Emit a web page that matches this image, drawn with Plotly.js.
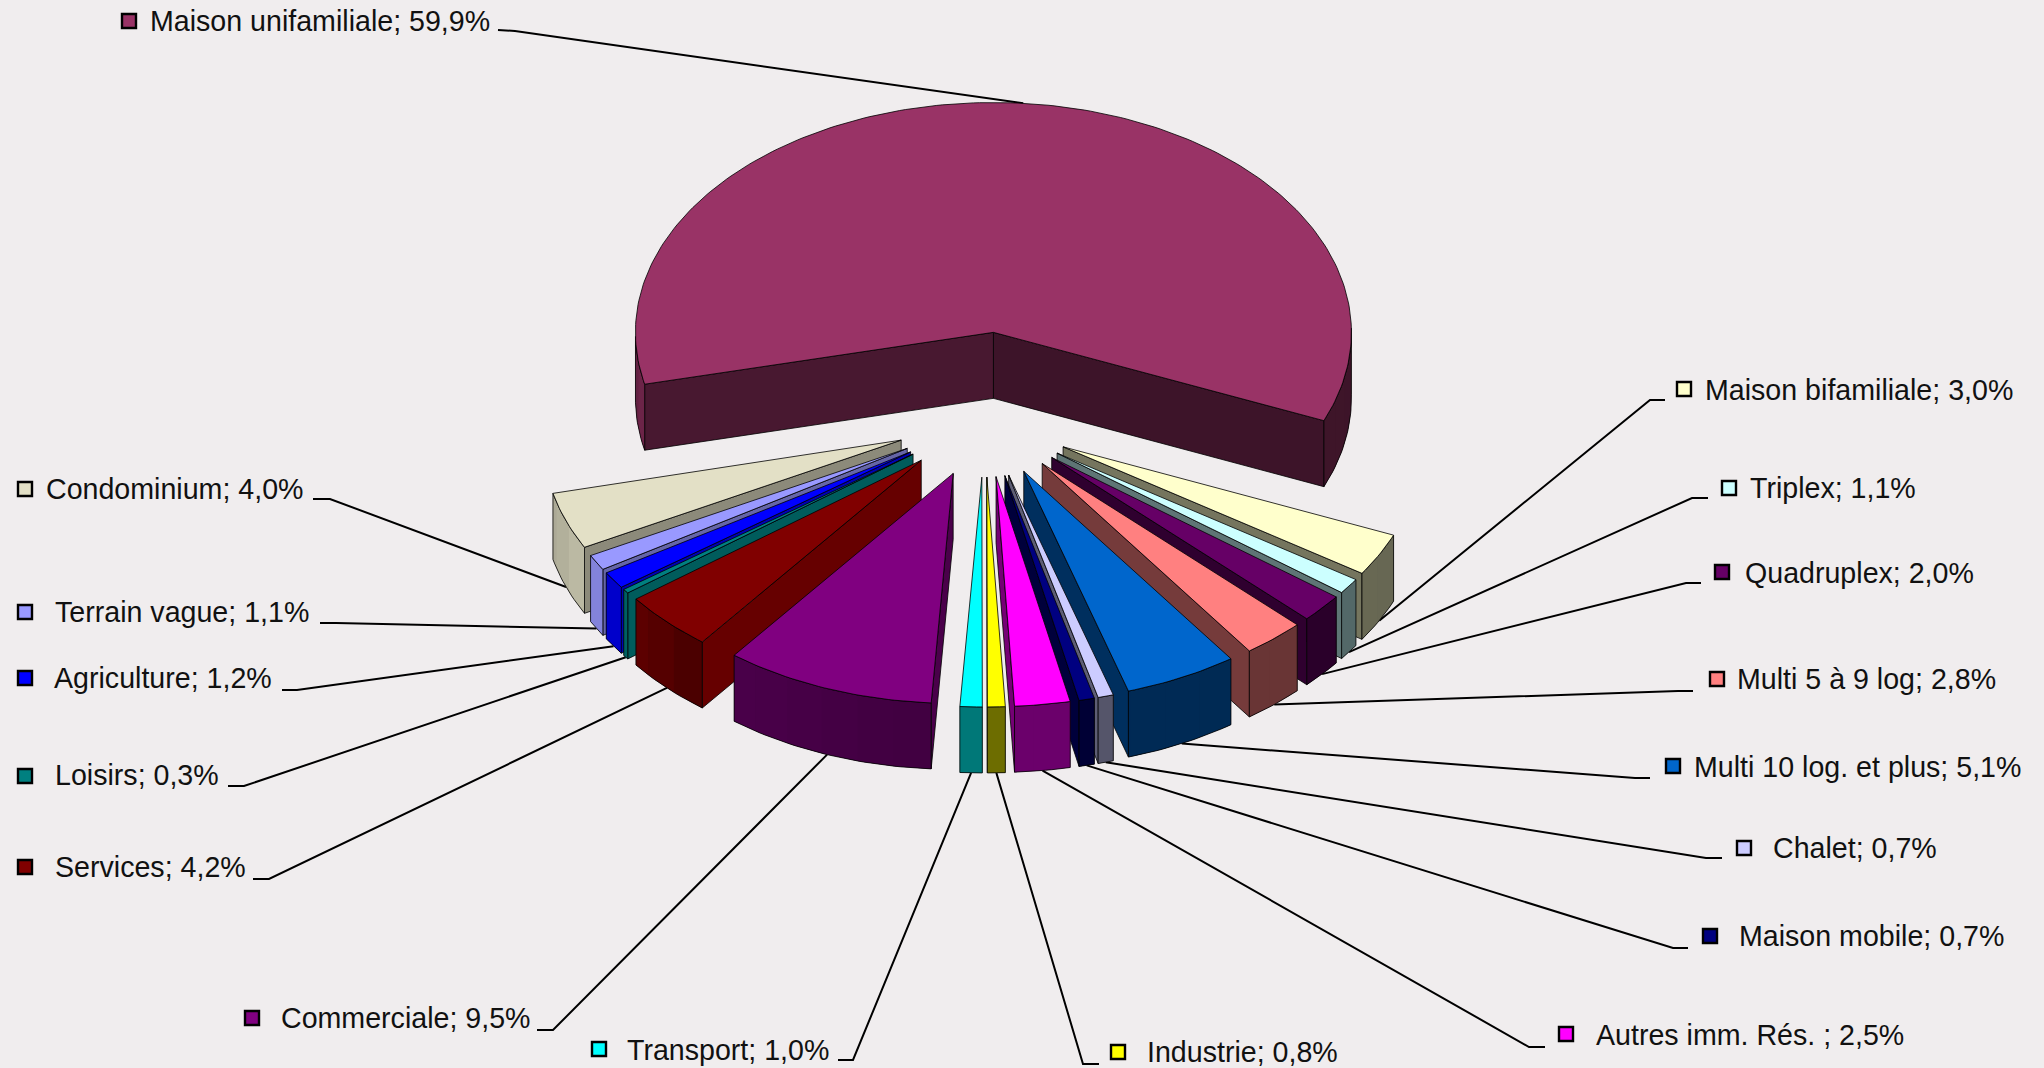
<!DOCTYPE html>
<html>
<head>
<meta charset="utf-8">
<script src="https://cdn.plot.ly/plotly-3.0.1.min.js"></script>
<style>html,body{margin:0;padding:0;background:#f0edee}#chart{width:2044px;height:1068px}</style>
</head>
<body>
<div id="chart"></div>
<script>
// Share of buildings by category, percent, in drawing order clockwise from the large slice
const categories = ["Maison unifamiliale","Maison bifamiliale","Triplex","Quadruplex","Multi 5 à 9 log","Multi 10 log. et plus","Chalet","Maison mobile","Autres imm. Rés. ","Industrie","Transport","Commerciale","Services","Loisirs","Agriculture","Terrain vague","Condominium"];
const shares = [59.9,3.0,1.1,2.0,2.8,5.1,0.7,0.7,2.5,0.8,1.0,9.5,4.2,0.3,1.2,1.1,4.0];
const colors = ["#993366","#FFFFCC","#CCFFFF","#660066","#FF8080","#0066CC","#CCCCFF","#000080","#FF00FF","#FFFF00","#00FFFF","#800080","#800000","#008080","#0000FF","#9999FF","#E3E0C6"];

// Label placement: text anchor, key square, and the two points of each leader's elbow
const textX = [150,1705,1750,1745,1737,1694,1773,1739,1596,1147,627,281,55,55,54,55,46];
const textY = [24,393,491,576,682,770,851,939,1038,1055,1053,1021,870,778,681,615,492];
const keyX  = [129,1684,1729,1722,1717,1673,1744,1710,1566,1118,599,252,25,25,25,25,25];
const keyY  = [21,389,488,572,679,766,848,936,1034,1052,1049,1018,867,776,678,612,489];
const elbowA = [[498,30],[1665,400],[1708,498],[1701,583],[1693,691],[1650,778],[1722,858],[1688,948],[1545,1047],[1099,1064],[838,1060],[537,1030],[253,879],[228,786],[282,690],[320,623],[313,499]];
const elbowB = [[515,31],[1650,400],[1692,498],[1686,583],[1678,691],[1635,778],[1706,858],[1673,948],[1529,1047],[1083,1064],[853,1060],[553,1030],[269,879],[244,786],[297,690],[336,623],[330,499]];

// Pie geometry
const radius = 358, squash = 0.642, depth = 66;
const pivot = [984.5, 420], burst = 89, mainBurst = 137, mainNudgeX = -2.5;
const firstEnd = 22.6;            // angle where the large slice ends, degrees clockwise from east
const rad = d => d * Math.PI / 180;

function lerpTable(table, x) {
  if (x <= table[0][0]) return table[0][1];
  for (let i = 1; i < table.length; i++) {
    if (x <= table[i][0]) {
      const [a, u] = table[i - 1], [b, v] = table[i];
      return u + (v - u) * (x - a) / (b - a);
    }
  }
  return table[table.length - 1][1];
}
// Shading of the curved rim and the flat cut faces, by direction of the surface
const rimShade = [[0,.40],[88,.42],[94,.50],[130,.58],[140,.70],[150,.86],[165,.76],[180,.60]];
const cutShade = [[94,.58],[128,.80],[140,.75],[152,.62],[166,.47]];
function shade(hex, f) {
  const n = parseInt(hex.slice(1), 16);
  const c = [n >> 16 & 255, n >> 8 & 255, n & 255].map(v => Math.round(v * f));
  return `rgb(${c[0]},${c[1]},${c[2]})`;
}

// Slices as angular spans
let cursor = firstEnd - shares[0] * 3.6;
const slices = shares.map((v, i) => {
  const a0 = cursor, a1 = cursor + v * 3.6;
  cursor = a1;
  const mid = (a0 + a1) / 2;
  const e = i === 0 ? mainBurst : burst;
  const ax = pivot[0] + e * Math.cos(rad(mid)) + (i === 0 ? mainNudgeX : 0);
  const ay = pivot[1] + e * squash * Math.sin(rad(mid));
  return {i, a0, a1, mid, ax, ay, color: colors[i]};
});

const rimPt = (s, a, dy) => [s.ax + radius * Math.cos(rad(a)), s.ay + radius * squash * Math.sin(rad(a)) + dy];

const traces = [];
function poly(pts, fill, lineColor, lineWidth) {
  traces.push({
    type: "scatter", mode: "lines", hoverinfo: "skip", showlegend: false,
    x: pts.map(p => p[0]), y: pts.map(p => p[1]),
    fill: fill ? "toself" : "none", fillcolor: fill || undefined,
    line: {color: lineColor, width: lineWidth}
  });
}
function closed(pts) { return pts.concat([pts[0]]); }
function arc(s, from, to, dy) {
  const n = Math.max(2, Math.ceil(Math.abs(to - from)));
  const out = [];
  for (let k = 0; k <= n; k++) out.push(rimPt(s, from + (to - from) * k / n, dy));
  return out;
}

// Leader lines run under the pie and finish at the middle of each slice's rim
slices.forEach(s => {
  const low = Math.sin(rad(s.mid)) > 0 ? depth : 0;
  const end = rimPt(s, s.mid, low);
  poly([elbowA[s.i], elbowB[s.i], end], null, "#000000", 2);
});

// Faces of a slice, back to front
function drawSlice(s) {
  const apex = [s.ax, s.ay], apexLow = [s.ax, s.ay + depth];
  // cut faces
  if (Math.cos(rad(s.a1)) > 0) {
    const p = rimPt(s, s.a1, 0), q = rimPt(s, s.a1, depth);
    poly(closed([apex, p, q, apexLow]), shade(s.color, s.i === 0 ? .40 : .46), "#000000", .8);
  }
  if (-Math.cos(rad(s.a0)) > 0) {
    const p = rimPt(s, s.a0, 0), q = rimPt(s, s.a0, depth);
    const norm = ((s.a0 % 360) + 360) % 360;
    poly(closed([apex, p, q, apexLow]), shade(s.color, lerpTable(cutShade, norm)), "#000000", .8);
  }
  // curved rim: solid base for each visible run, then faint bands on top of it
  const runs = [];
  let run = null;
  const step = 6;
  for (let a = s.a0; a < s.a1 - 1e-6; a = Math.min(a + step, s.a1)) {
    const b = Math.min(a + step, s.a1);
    if (Math.sin(rad((a + b) / 2)) > 0) {
      if (!run) { run = [a, b]; runs.push(run); } else run[1] = b;
    } else run = null;
  }
  const normOf = a => ((a % 360) + 360) % 360;
  runs.forEach(r => {
    const outline = closed(arc(s, r[0], r[1], 0).concat(arc(s, r[1], r[0], depth)));
    poly(outline, shade(s.color, lerpTable(rimShade, normOf((r[0] + r[1]) / 2))), "rgba(0,0,0,0)", 0);
    for (let a = r[0]; a < r[1] - 1e-6; a = Math.min(a + step, r[1])) {
      const b = Math.min(a + step, r[1]);
      const band = closed(arc(s, a, b, 0).concat(arc(s, b, a, depth)));
      poly(band, shade(s.color, lerpTable(rimShade, normOf((a + b) / 2))), "rgba(0,0,0,0)", 0);
    }
    poly(outline, null, "#000000", .8);
  });
  // top face
  poly(closed([apex].concat(arc(s, s.a0, s.a1, 0))), s.color, "#000000", .8);
}
slices.slice().sort((p, q) => Math.sin(rad(p.mid)) - Math.sin(rad(q.mid))).forEach(drawSlice);

// Key squares
traces.push({
  type: "scatter", mode: "markers", hoverinfo: "skip", showlegend: false,
  x: keyX, y: keyY,
  marker: {symbol: "square", size: 14, color: colors, line: {color: "#000000", width: 2.4}}
});
// Category labels
const labels = categories.map((c, i) => c + "; " + shares[i].toFixed(1).replace(".", ",") + "%");
traces.push({
  type: "scatter", mode: "text", hoverinfo: "skip", showlegend: false,
  x: textX, y: textY, text: labels, textposition: "middle right",
  textfont: {family: "Liberation Sans, Arial, sans-serif", size: 28.6, color: "#111111"}
});

const hidden = {visible: false, fixedrange: true, showgrid: false, zeroline: false};
Plotly.newPlot("chart", traces, {
  width: 2044, height: 1068,
  margin: {l: 0, r: 0, t: 0, b: 0},
  paper_bgcolor: "#f0edee", plot_bgcolor: "#f0edee",
  showlegend: false,
  xaxis: Object.assign({range: [0, 2044]}, hidden),
  yaxis: Object.assign({range: [1068, 0]}, hidden)
}, {displayModeBar: false, staticPlot: true});
</script>
</body>
</html>
